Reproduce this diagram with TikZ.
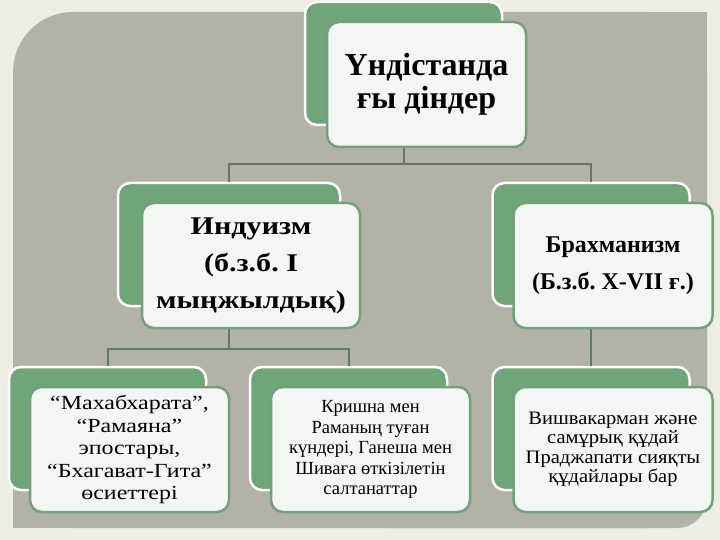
\documentclass[tikz,border=0pt]{standalone}
\usepackage{fontspec}
\setmainfont{Liberation Serif}
\newfontfamily\hindufont[FakeStretch=1.18]{Liberation Serif}
\newfontfamily\epicfont[FakeStretch=1.2]{Liberation Serif}
\newfontfamily\godfont[FakeStretch=1.08]{Liberation Serif}
\usetikzlibrary{positioning,calc}
\definecolor{pagefill}{HTML}{EDEDE4}
\definecolor{panelfill}{HTML}{B3B2A7}
\definecolor{backfill}{HTML}{70A479}
\definecolor{frontfill}{HTML}{F3F6F3}
\definecolor{frontdraw}{HTML}{72A07A}
\definecolor{linkdraw}{HTML}{5E7B62}
\frenchspacing

\begin{document}
\begin{tikzpicture}[
    x=1pt, y=-1pt,
    back/.style={rectangle, rounded corners=12pt, fill=backfill, draw=white,
                 line width=2.5pt, minimum width=197pt, minimum height=123pt},
    front/.style={rectangle, rounded corners=12pt, fill=frontfill, draw=frontdraw,
                  line width=2.5pt, minimum width=199pt, minimum height=125pt,
                  align=center, inner sep=2pt},
    link/.style={draw=linkdraw, line width=2pt},
    rootfont/.style={font=\fontsize{32}{33}\selectfont\bfseries},
    midfont/.style={font=\fontsize{24}{37}\selectfont\bfseries},
    leaffont/.style={font=\fontsize{18.5}{20.5}\selectfont},
]
\useasboundingbox (0,0) rectangle (720,540);

% ---------------- Page and panel ----------------
\fill[pagefill] (0,0) rectangle (720,540);
\fill[panelfill, rounded corners=60pt] (13,12) rectangle (707,528);
\fill[panelfill] (360,12) rectangle (707,270);
\fill[panelfill] (13,270) rectangle (360,528);
\fill[panelfill, rounded corners=30pt] (360,270) rectangle (707,528);

% ---------------- Root ----------------
\node[back] (rootback) at (403.5,63.5) {};
\node[front, rootfont] (root) at ($(rootback.center)+(23,21)$)
  {Үндістанда\\ғы діндер};

% ---------------- Second level ----------------
\node[back, minimum width=222pt] (hinduback) at (229,244.5) {};
\node[front, minimum width=218pt, font=\hindufont\fontsize{25.5}{37}\selectfont\bfseries]
  (hindu) at ($(hinduback.center)+(22,21)$)
  {Индуизм\\(б.з.б. I\\мыңжылдық)};

\node[back] (brahmaback) at (591,244.5) {};
\node[front, midfont] (brahma) at ($(brahmaback.center)+(22,21)$)
  {Брахманизм\\(Б.з.б. X-VII ғ.)};

% ---------------- Third level ----------------
\node[back] (epicback) at (107.5,428.5) {};
\node[front, font=\epicfont\fontsize{20}{22.5}\selectfont] (epic)
  at ($(epicback.center)+(22,21)$)
  {“Махабхарата”,\\“Рамаяна”\\эпостары,\\“Бхагават-Гита”\\өсиеттері};

\node[back] (feastback) at (348.5,428.5) {};
\node[front, leaffont] (feast) at ($(feastback.center)+(22,21)$)
  {Кришна мен\\Раманың туған\\күндері, Ганеша мен\\Шиваға өткізілетін\\салтанаттар};

\node[back] (godback) at (591,428.5) {};
\node[front, font=\godfont\fontsize{19}{19.5}\selectfont] (god)
  at ($(godback.center)+(22,21)$)
  {Вишвакарман және\\самұрық құдай\\Праджапати сияқты\\құдайлары бар};

% ---------------- Connectors ----------------
\foreach \c in {hinduback, brahmaback}
  \draw[link] (rootback.south |- root.south) -- ++(0,16) -| (\c.north);
\foreach \c in {epicback, feastback}
  \draw[link] (hinduback.south |- hindu.south) -- ++(0,20) -| (\c.north);
\draw[link] (brahmaback.south |- brahma.south) -- (godback.north);

\end{tikzpicture}
\end{document}
